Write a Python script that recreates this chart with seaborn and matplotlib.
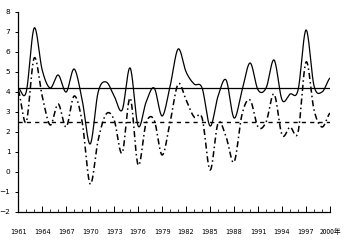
import numpy as np
import pandas as pd
import matplotlib
matplotlib.use("Agg")
import matplotlib.pyplot as plt
import seaborn as sns

years = list(range(1961, 2001))
solid_vals = [4.2, 4.0, 7.2, 5.1, 4.2, 4.85, 4.0, 5.15, 3.6, 1.4,
              4.0, 4.5, 3.8, 3.1, 5.2, 2.3, 3.5, 4.2, 2.8, 4.3,
              6.15, 5.0, 4.4, 4.2, 2.3, 3.8, 4.6, 2.7, 4.1, 5.45,
              4.1, 4.2, 5.6, 3.6, 3.9, 4.1, 7.1, 4.3, 4.0, 4.7]
dash_vals = [4.1, 2.5, 5.7, 3.8, 2.35, 3.4, 2.25, 3.8, 2.5, -0.6,
             1.6, 2.9, 2.6, 0.95, 3.7, 0.35, 2.45, 2.6, 0.85, 2.5,
             4.4, 3.6, 2.75, 2.7, 0.1, 2.45, 1.75, 0.5, 2.9, 3.6,
             2.25, 2.5, 3.9, 1.85, 2.25, 2.0, 5.5, 3.1, 2.25, 2.95]
solid_mean = 4.2
dash_mean = 2.5
ytick_vals = list(range(-2, 9))
xtick_years = list(range(1961, 2001, 3))
xtick_labels = [str(y) for y in xtick_years[:-1]] + ["2000年"]


def smooth(x, y, n=20):
    x = np.asarray(x, float)
    y = np.asarray(y, float)
    yp = np.concatenate([[y[0]], y, [y[-1]]])
    xs, ys = [], []
    for i in range(len(x) - 1):
        p0, p1, p2, p3 = yp[i], yp[i + 1], yp[i + 2], yp[i + 3]
        t = np.linspace(0, 1, n, endpoint=False)
        yy = 0.5 * ((2 * p1) + (-p0 + p2) * t + (2 * p0 - 5 * p1 + 4 * p2 - p3) * t ** 2
                    + (-p0 + 3 * p1 - 3 * p2 + p3) * t ** 3)
        xs.append(x[i] + t * (x[i + 1] - x[i]))
        ys.append(yy)
    xs.append([x[-1]])
    ys.append([y[-1]])
    return np.concatenate(xs), np.concatenate(ys)


sx, sy = smooth(years, solid_vals)
dx, dy = smooth(years, dash_vals)
df_s = pd.DataFrame({"year": sx, "value": sy})
df_d = pd.DataFrame({"year": dx, "value": dy})

sns.set_style("white")
plt.rcParams['font.family'] = ['DejaVu Sans', 'Noto Sans CJK SC']

fig = plt.figure(figsize=(3.5, 2.5), dpi=100)
ax = fig.add_axes([0.052, 0.152, 0.891, 0.8])

sns.lineplot(data=df_s, x="year", y="value", ax=ax, color="black", lw=0.9)
sns.lineplot(data=df_d, x="year", y="value", ax=ax, color="black", lw=1.1,
             dashes=False, linestyle=(0, (4, 2, 1, 2)))
ax.axhline(solid_mean, color="black", lw=0.9)
ax.axhline(dash_mean, color="black", lw=1.0, linestyle=(0, (3, 3)))

ax.set_xlim(1961, 2000)
ax.set_ylim(-2, 8)
ax.set_yticks(ytick_vals)
ax.set_xticks(xtick_years)
ax.set_xticklabels(xtick_labels)
ax.set_xticks(years, minor=True)
ax.set_xlabel("")
ax.set_ylabel("")

for s in ["top", "right"]:
    ax.spines[s].set_visible(False)
for s in ["left", "bottom"]:
    ax.spines[s].set_color("black")
    ax.spines[s].set_linewidth(0.9)

ax.tick_params(axis="x", which="major", direction="in", length=4, width=0.7,
               labelsize=4.8, pad=16, bottom=True, colors="black")
ax.tick_params(axis="x", which="minor", direction="in", length=2.5, width=0.6, bottom=True)
ax.tick_params(axis="y", which="major", direction="out", length=2, width=0.7,
               labelsize=5.3, pad=3.5, left=True, colors="black")
ax.grid(False)
last = ax.get_xticklabels()[-1]
last.set_fontfamily(['Noto Sans CJK SC', 'DejaVu Sans'])
for lab in ax.get_xticklabels():
    lab.set_va("baseline")

fig.savefig("out.png", dpi=100)
